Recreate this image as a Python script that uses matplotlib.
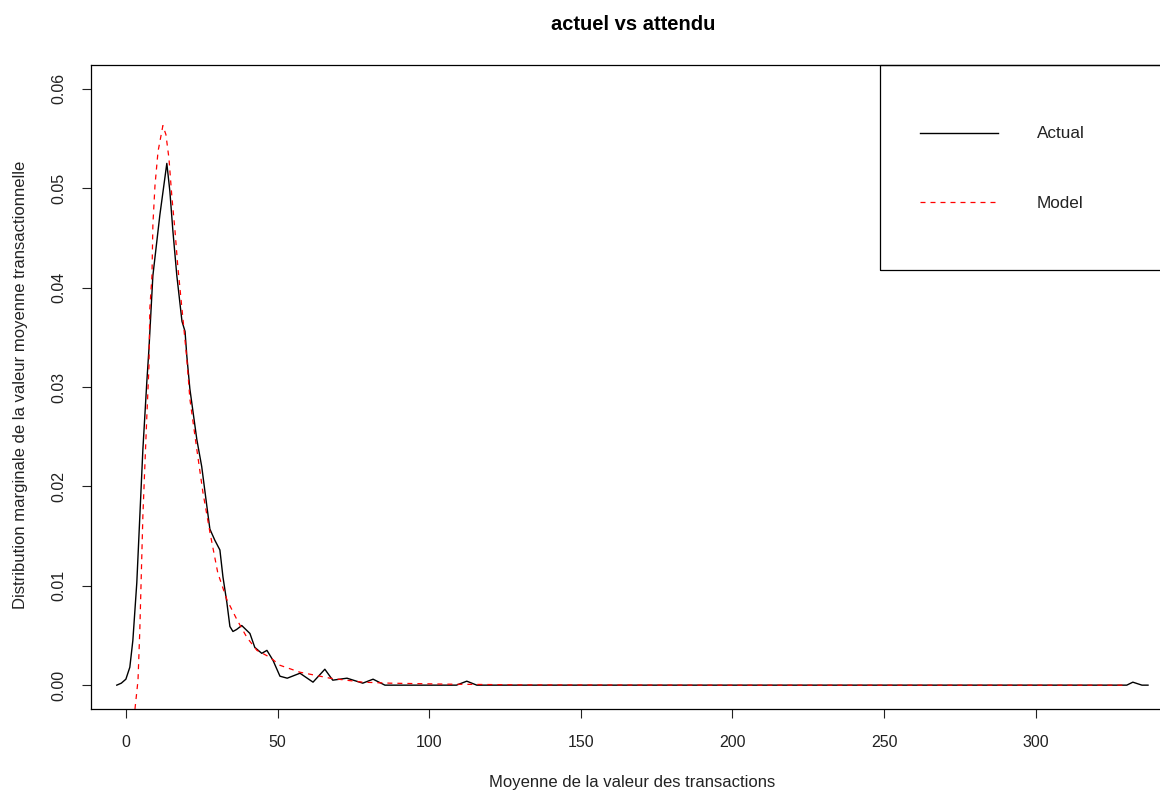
import matplotlib
matplotlib.use("Agg")
import matplotlib.pyplot as plt
from matplotlib.patches import Rectangle
from matplotlib.lines import Line2D

plt.rcParams['font.family'] = ['Liberation Sans', 'DejaVu Sans']

title = "actuel vs attendu"
xlabel = "Moyenne de la valeur des transactions"
ylabel = "Distribution marginale de la valeur moyenne transactionnelle"
series_names = ["Actual", "Model"]

actual_x = [-3, -1.5, 0, 1.3, 2.3, 3.6, 4.6, 5.6, 6.9, 7.6, 8.9, 11.2, 13.5, 14.5, 15.5,
            16.8, 18.5, 19.5, 20.1, 21.1, 23.4, 25, 26.7, 27.7, 29.3, 31, 32, 33.3, 34.3,
            35.3, 36.5, 38.2, 40.9, 42.5, 44.8, 46.5, 48.5, 50.8, 53.2, 57.4, 61.7, 65.6,
            68.2, 72.9, 78.1, 81.5, 85.4, 109, 112.4, 115.7, 330, 332, 335, 337]
actual_y = [0, 0.0002, 0.0006, 0.0018, 0.0045, 0.0103, 0.017, 0.0237, 0.0305, 0.0338,
            0.0412, 0.0473, 0.0525, 0.0497, 0.0457, 0.0412, 0.0366, 0.0356, 0.0331, 0.0298,
            0.0247, 0.022, 0.018, 0.0157, 0.0146, 0.0136, 0.0109, 0.0083, 0.0059, 0.0054,
            0.0056, 0.006, 0.0052, 0.0038, 0.0032, 0.0035, 0.0025, 0.0009, 0.0007, 0.0012,
            0.0003, 0.0016, 0.0005, 0.0007, 0.0002, 0.0006, 0, 0, 0.0004, 0, 0, 0.0003, 0, 0]

model_x = [3, 4, 4.6, 5.6, 6.9, 7.6, 7.9, 8.6, 8.9, 9.6, 10.6, 12.2, 13.2, 14.2, 15.2,
           16.2, 17.1, 18.8, 20.1, 21.1, 23.4, 25.4, 27.7, 30.3, 33.3, 36.6, 39.9, 43.2,
           47.5, 50.8, 57.4, 67.3, 78, 87, 106, 130, 200, 330]
model_y = [-0.0024, 0.0005, 0.0056, 0.017, 0.027, 0.032, 0.0379, 0.0412, 0.0463, 0.0503,
           0.0537, 0.0563, 0.0554, 0.053, 0.049, 0.0457, 0.0422, 0.0369, 0.0328, 0.0288,
           0.0237, 0.0194, 0.0154, 0.0113, 0.0086, 0.0066, 0.0048, 0.0035, 0.0028, 0.002,
           0.0013, 0.0007, 0.0003, 0.0002, 0.0001, 0.00003, 0.0, 0.0]

xticks = [0, 50, 100, 150, 200, 250, 300]
yticks = [0.00, 0.01, 0.02, 0.03, 0.04, 0.05, 0.06]

W, H = 1160, 793
fig = plt.figure(figsize=(W / 100, H / 100), dpi=100)
L, R, T, B = 91, 1175, 65, 709
ax = fig.add_axes([L / W, 1 - B / H, (R - L) / W, (B - T) / H])

ax.plot(actual_x, actual_y, color='black', lw=1.0)
ax.plot(model_x, model_y, color='red', lw=0.9, linestyle=(0, (4, 4)))

ax.set_xlim(-11.5, 345.9)
ax.set_ylim(-0.0024, 0.0624)
ax.set_xticks(xticks)
ax.set_xticklabels([str(v) for v in xticks])
ax.set_yticks(yticks)
ax.set_yticklabels(["%.2f" % v for v in yticks], rotation=90, va='center')
ax.tick_params(axis='both', length=6.5, width=0.8, labelsize=11.5, colors='#222222')
ax.tick_params(axis='x', pad=12)
ax.tick_params(axis='y', pad=11)
for s in ax.spines.values():
    s.set_linewidth(0.9)
    s.set_color('black')

fig.text(633 / W, 1 - 24.5 / H, title, ha='center', va='center', fontsize=14.5, fontweight='bold')
fig.text(632 / W, 1 - 782 / H, xlabel, ha='center', va='center', fontsize=12, color='#222222')
fig.text(21 / W, 1 - 385 / H, ylabel, ha='center', va='center', fontsize=12, rotation=90, color='#222222')

# legend box (figure pixel coordinates)
def fx(px):
    return px / W

def fy(py):
    return 1 - py / H

box = Rectangle((fx(880), fy(270)), fx(1200) - fx(880), fy(65) - fy(270),
                transform=fig.transFigure, fill=False, edgecolor='black', lw=0.9)
fig.patches.append(box)
fig.lines.append(Line2D([fx(920), fx(998)], [fy(133), fy(133)], transform=fig.transFigure,
                        color='black', lw=1.0))
fig.lines.append(Line2D([fx(920), fx(996)], [fy(202), fy(202)], transform=fig.transFigure,
                        color='red', lw=0.9, linestyle=(0, (4, 4))))
fig.text(fx(1037), fy(134), series_names[0], ha='left', va='center', fontsize=12.3, color='#222222')
fig.text(fx(1037), fy(203), series_names[1], ha='left', va='center', fontsize=12.3, color='#222222')

fig.savefig("out.png", dpi=100)
